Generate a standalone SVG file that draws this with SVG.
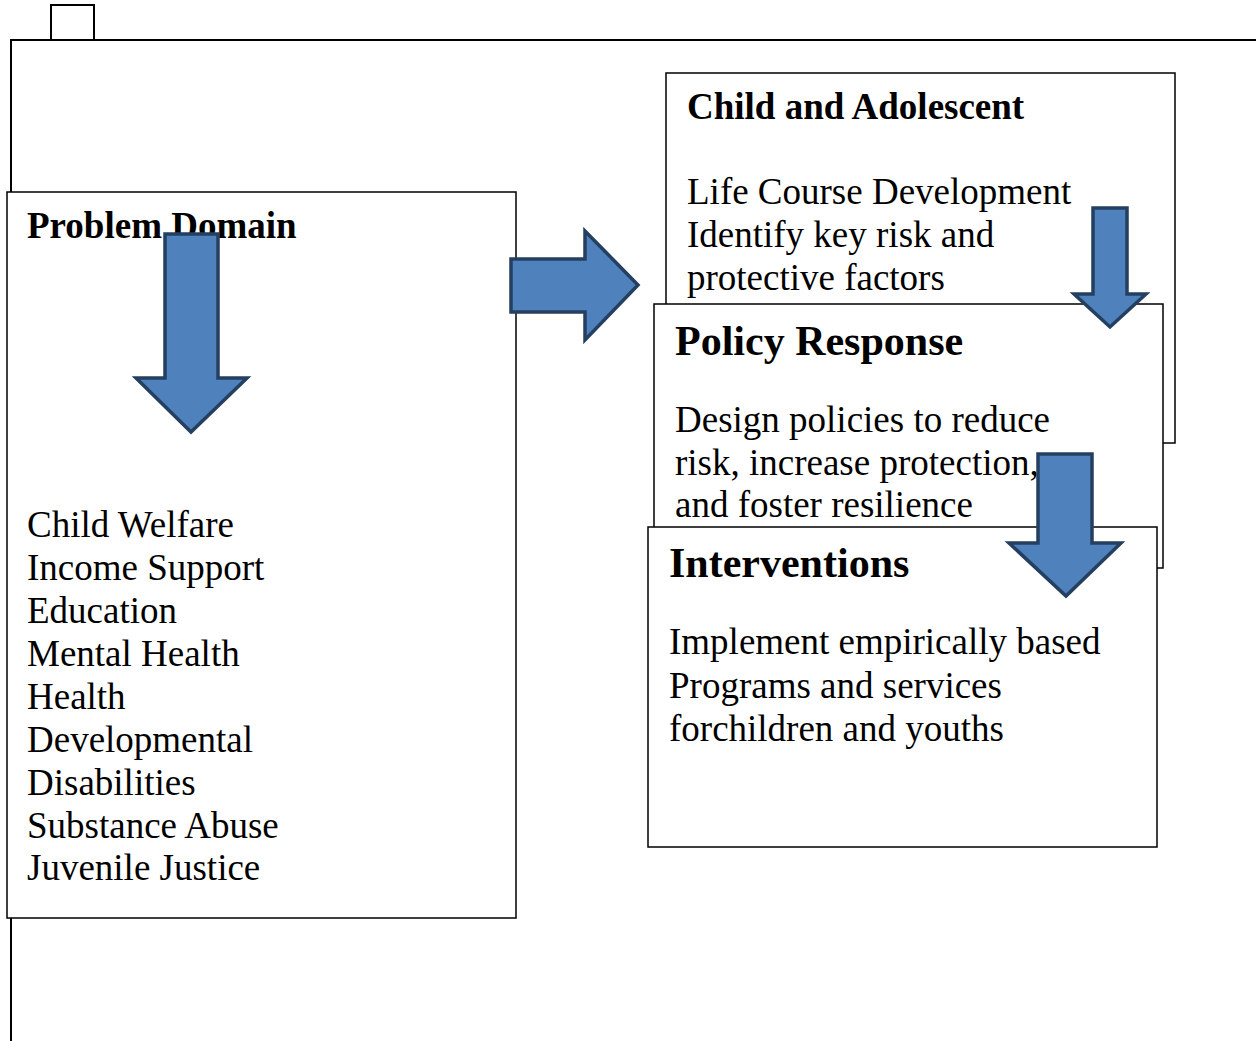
<svg xmlns="http://www.w3.org/2000/svg" width="1256" height="1041" viewBox="0 0 1256 1041">
<style>
.box{fill:#fff;stroke:#000;stroke-width:1.5}
.frame{fill:none;stroke:#000;stroke-width:2}
.arrow{fill:#4f81bd;stroke:#243f60;stroke-width:3.5;stroke-linejoin:miter}
.t{font-family:"Liberation Serif","Times New Roman",serif;font-size:37px;fill:#000}
.h{font-family:"Liberation Serif","Times New Roman",serif;font-size:37px;font-weight:bold;fill:#000}
.h2{font-family:"Liberation Serif","Times New Roman",serif;font-size:42px;font-weight:bold;fill:#000}
</style>
<rect width="1256" height="1041" fill="#fff"/>
<g id="frame">
<rect class="frame" x="51" y="5" width="43" height="35"/>
<polyline class="frame" points="11,1041 11,40 1256,40"/>
</g>
<g id="problem-domain">
<rect class="box" x="7" y="192" width="509" height="726"/>
<text class="h" x="27" y="238">Problem Domain</text>
<text class="t" x="27" y="537">Child Welfare</text>
<text class="t" x="27" y="580">Income Support</text>
<text class="t" x="27" y="623">Education</text>
<text class="t" x="27" y="666">Mental Health</text>
<text class="t" x="27" y="709">Health</text>
<text class="t" x="27" y="752">Developmental</text>
<text class="t" x="27" y="795">Disabilities</text>
<text class="t" x="27" y="838">Substance Abuse</text>
<text class="t" x="27" y="880">Juvenile Justice</text>
</g>
<g id="child-adolescent">
<rect class="box" x="666" y="73" width="509" height="370"/>
<text class="h" x="687" y="119">Child and Adolescent</text>
<text class="t" x="687" y="204">Life Course Development</text>
<text class="t" x="687" y="247">Identify key risk and</text>
<text class="t" x="687" y="290">protective factors</text>
</g>
<g id="policy-response">
<rect class="box" x="654" y="304" width="509" height="264"/>
<text class="h2" x="675" y="355">Policy Response</text>
<text class="t" x="675" y="432">Design policies to reduce</text>
<text class="t" x="675" y="475">risk, increase protection,</text>
<text class="t" x="675" y="517">and foster resilience</text>
</g>
<g id="interventions">
<rect class="box" x="648" y="527" width="509" height="320"/>
<text class="h2" x="669" y="577">Interventions</text>
<text class="t" x="669" y="654">Implement empirically based</text>
<text class="t" x="669" y="698">Programs and services</text>
<text class="t" x="669" y="741">forchildren and youths</text>
</g>
<g id="connectors">
<polygon class="arrow" points="165,234 218,234 218,378 247,378 191,432 136,378 165,378"/>
<polygon class="arrow" points="511,259 585,259 585,231 638,285 585,340 585,312 511,312"/>
<polygon class="arrow" points="1093,208 1127,208 1127,294 1146,294 1110,327 1074,294 1093,294"/>
<polygon class="arrow" points="1038,454 1092,454 1092,543 1121,543 1066,596 1009,543 1038,543"/>
</g>
</svg>
